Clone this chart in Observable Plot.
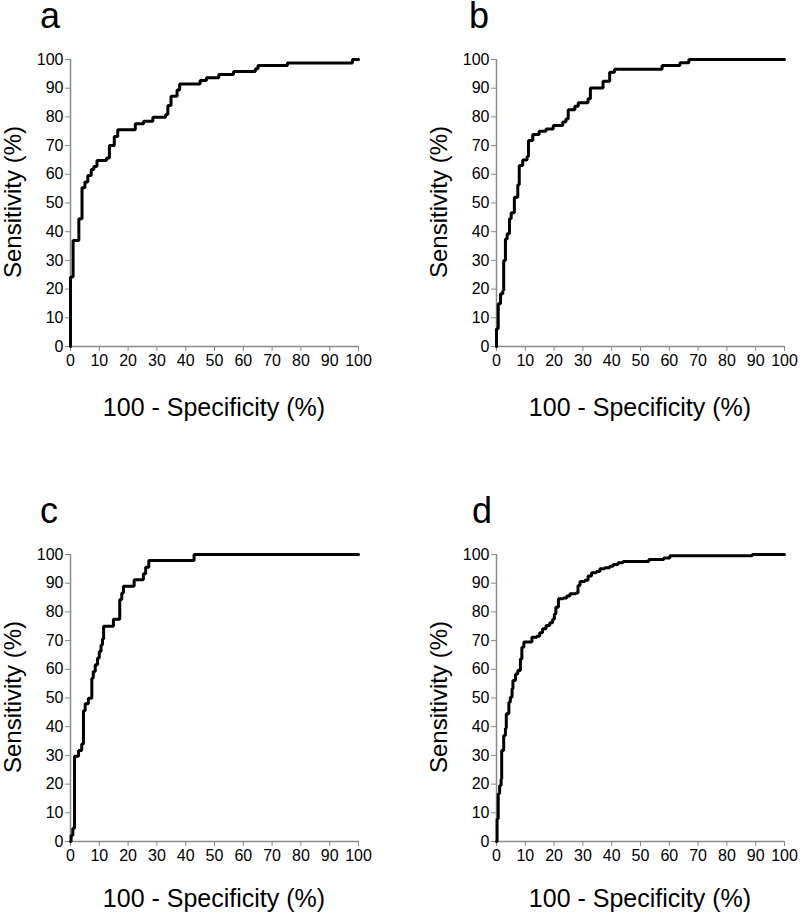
<!DOCTYPE html>
<html>
<head>
<meta charset="utf-8">
<script src="https://cdn.jsdelivr.net/npm/d3@7"></script>
<script src="https://cdn.jsdelivr.net/npm/@observablehq/plot@0.6"></script>
<style>
  body { margin: 0; background: #fff; }
  #root { position: relative; width: 800px; height: 913px; overflow: hidden; font-family: "Liberation Sans", Arial, sans-serif; color: #000; }
  .panel { position: absolute; }
  .letter { position: absolute; font-size: 36px; line-height: 32px; }
  .xlab { position: absolute; font-size: 25px; line-height: 24px; width: 400px; text-align: center; }
  .ylab { position: absolute; font-size: 24px; line-height: 1; width: 300px; text-align: center; transform: rotate(-90deg); transform-origin: center center; }
</style>
</head>
<body>
<div id="root"></div>
<script>
// ---- Data ----
const panelLetters = ["a", "b", "c", "d"];
const xAxisTitle = "100 - Specificity (%)";
const yAxisTitle = "Sensitivity (%)";
const tickValues = [0, 10, 20, 30, 40, 50, 60, 70, 80, 90, 100];

// Points where the ROC step rises (x = 100 - specificity, y = sensitivity)
const aX = [0, 0, 0.9, 2.9, 4.0, 5.0, 6.0, 7.2, 8.1, 9.2, 12.5, 13.5, 15.2, 16.4, 22.5, 25.4, 28.6, 33.0, 33.8, 34.9, 37.0, 37.9, 45.0, 47.2, 51.5, 56.6, 64.2, 65.1, 75.3, 97.9, 100];
const aY = [0, 24.2, 36.9, 44.5, 55.3, 57.3, 59.6, 61.7, 62.7, 64.8, 65.7, 70.0, 73.2, 75.5, 77.6, 78.5, 79.9, 80.8, 84.0, 87.2, 89.4, 91.5, 92.7, 93.6, 94.8, 95.8, 96.8, 97.9, 98.8, 100, 100];

const bX = [0, 0, 0.6, 1.4, 2.2, 2.5, 3.1, 3.7, 4.5, 5.1, 6.2, 7.4, 7.9, 9.1, 10.6, 11.1, 12.6, 14.8, 17.2, 19.7, 23.0, 24.1, 24.9, 27.2, 28.4, 31.8, 32.6, 37.0, 39.3, 41.0, 57.5, 63.7, 66.8, 100];
const bY = [0, 6.2, 14.9, 18.4, 19.5, 30.0, 37.5, 39.3, 44.5, 46.6, 52.0, 56.4, 63.1, 65.0, 66.2, 71.8, 73.9, 75.0, 75.8, 77.0, 78.2, 79.3, 82.5, 83.7, 84.9, 86.3, 90.1, 92.4, 95.6, 96.6, 97.9, 98.9, 100, 100];

const cX = [0, 0.2, 0.8, 1.4, 2.8, 3.9, 4.5, 5.1, 6.2, 7.4, 7.9, 8.6, 9.4, 10.0, 10.6, 11.1, 11.5, 14.9, 17.1, 17.8, 18.4, 22.1, 25.3, 26.1, 27.2, 42.9, 100];
const cY = [0, 2.1, 4.6, 29.7, 31.7, 34.0, 45.6, 48.0, 49.9, 56.9, 59.2, 61.6, 63.9, 66.2, 68.5, 70.6, 75.0, 77.4, 84.3, 86.6, 88.9, 91.2, 93.3, 95.6, 97.9, 100, 100];

const dX = [0, 0.2, 0.6, 1.1, 1.6, 1.8, 2.5, 3.1, 3.4, 4.3, 4.8, 5.4, 5.7, 6.6, 7.4, 8.3, 8.8, 9.5, 12.3, 14.0, 15.0, 16.0, 17.2, 18.5, 19.5, 20.1, 20.6, 21.5, 23.2, 24.4, 25.5, 27.6, 28.3, 29.0, 30.7, 31.8, 33.0, 34.7, 35.9, 37.6, 39.3, 40.5, 42.2, 43.9, 52.9, 58.1, 60.2, 88.8, 100];
const dY = [0, 7.9, 16.6, 19.5, 21.8, 31.7, 36.9, 39.5, 44.5, 48.5, 50.3, 53.2, 56.1, 58.4, 59.6, 63.6, 67.7, 69.5, 71.2, 71.5, 72.7, 74.1, 75.3, 76.2, 77.4, 79.3, 81.6, 84.6, 84.8, 85.5, 86.3, 86.6, 89.2, 90.6, 91.0, 92.5, 93.6, 94.1, 95.0, 95.4, 95.9, 96.5, 97.1, 97.6, 98.3, 98.8, 99.6, 100, 100];

const series = [[aX, aY], [bX, bY], [cX, cY], [dX, dY]];
// ---- Layout ----
const offsets = [[0, 0], [426, 0], [0, 495], [426, 495]];
const panelWidths = [400, 374, 400, 374];
const letterPos = [[40, 0], [469, 0], [40, 495], [472, 495]];
const xLabelTop = [395, 395, 886, 886];

const root = document.getElementById("root");

function makePanel(xs, ys, w) {
  const data = xs.map((x, i) => ({x, y: ys[i]}));
  return Plot.plot({
    width: w,
    height: 440,
    marginLeft: 70,
    marginRight: w - 358,
    marginTop: 59,
    marginBottom: 94,
    x: {domain: [0, 100]},
    y: {domain: [0, 100]},
    style: {fontFamily: "'Liberation Sans', Arial, sans-serif", fontSize: "16px", color: "#000", background: "transparent", overflow: "visible"},
    marks: [
      Plot.axisX({ticks: tickValues, tickSize: 5, tickPadding: 3, stroke: "#8a8a8a", fill: "#000", label: null}),
      Plot.axisY({ticks: tickValues, tickSize: 5, tickPadding: 2, stroke: "#8a8a8a", fill: "#000", label: null}),
      Plot.ruleY([0], {stroke: "#8a8a8a", strokeWidth: 1.5}),
      Plot.ruleX([0], {stroke: "#8a8a8a", strokeWidth: 1.5}),
      Plot.line(data, {x: "x", y: "y", curve: "step-after", stroke: "#000", strokeWidth: 3, strokeLinejoin: "miter"})
    ]
  });
}

series.forEach(([xs, ys], i) => {
  const [ox, oy] = offsets[i];
  const wrap = document.createElement("div");
  wrap.className = "panel";
  wrap.style.left = ox + "px";
  wrap.style.top = oy + "px";
  wrap.style.width = panelWidths[i] + "px";
  wrap.appendChild(makePanel(xs, ys, panelWidths[i]));
  root.appendChild(wrap);

  const letter = document.createElement("div");
  letter.className = "letter";
  letter.textContent = panelLetters[i];
  letter.style.left = letterPos[i][0] + "px";
  letter.style.top = letterPos[i][1] + "px";
  root.appendChild(letter);

  const xl = document.createElement("div");
  xl.className = "xlab";
  xl.textContent = xAxisTitle;
  xl.style.left = (ox + 214 - 200) + "px";
  xl.style.top = xLabelTop[i] + "px";
  root.appendChild(xl);

  const yl = document.createElement("div");
  yl.className = "ylab";
  yl.textContent = yAxisTitle;
  yl.style.left = (ox + 13 - 150) + "px";
  yl.style.top = (oy + 202 - 12) + "px";
  root.appendChild(yl);
});
</script>
</body>
</html>
